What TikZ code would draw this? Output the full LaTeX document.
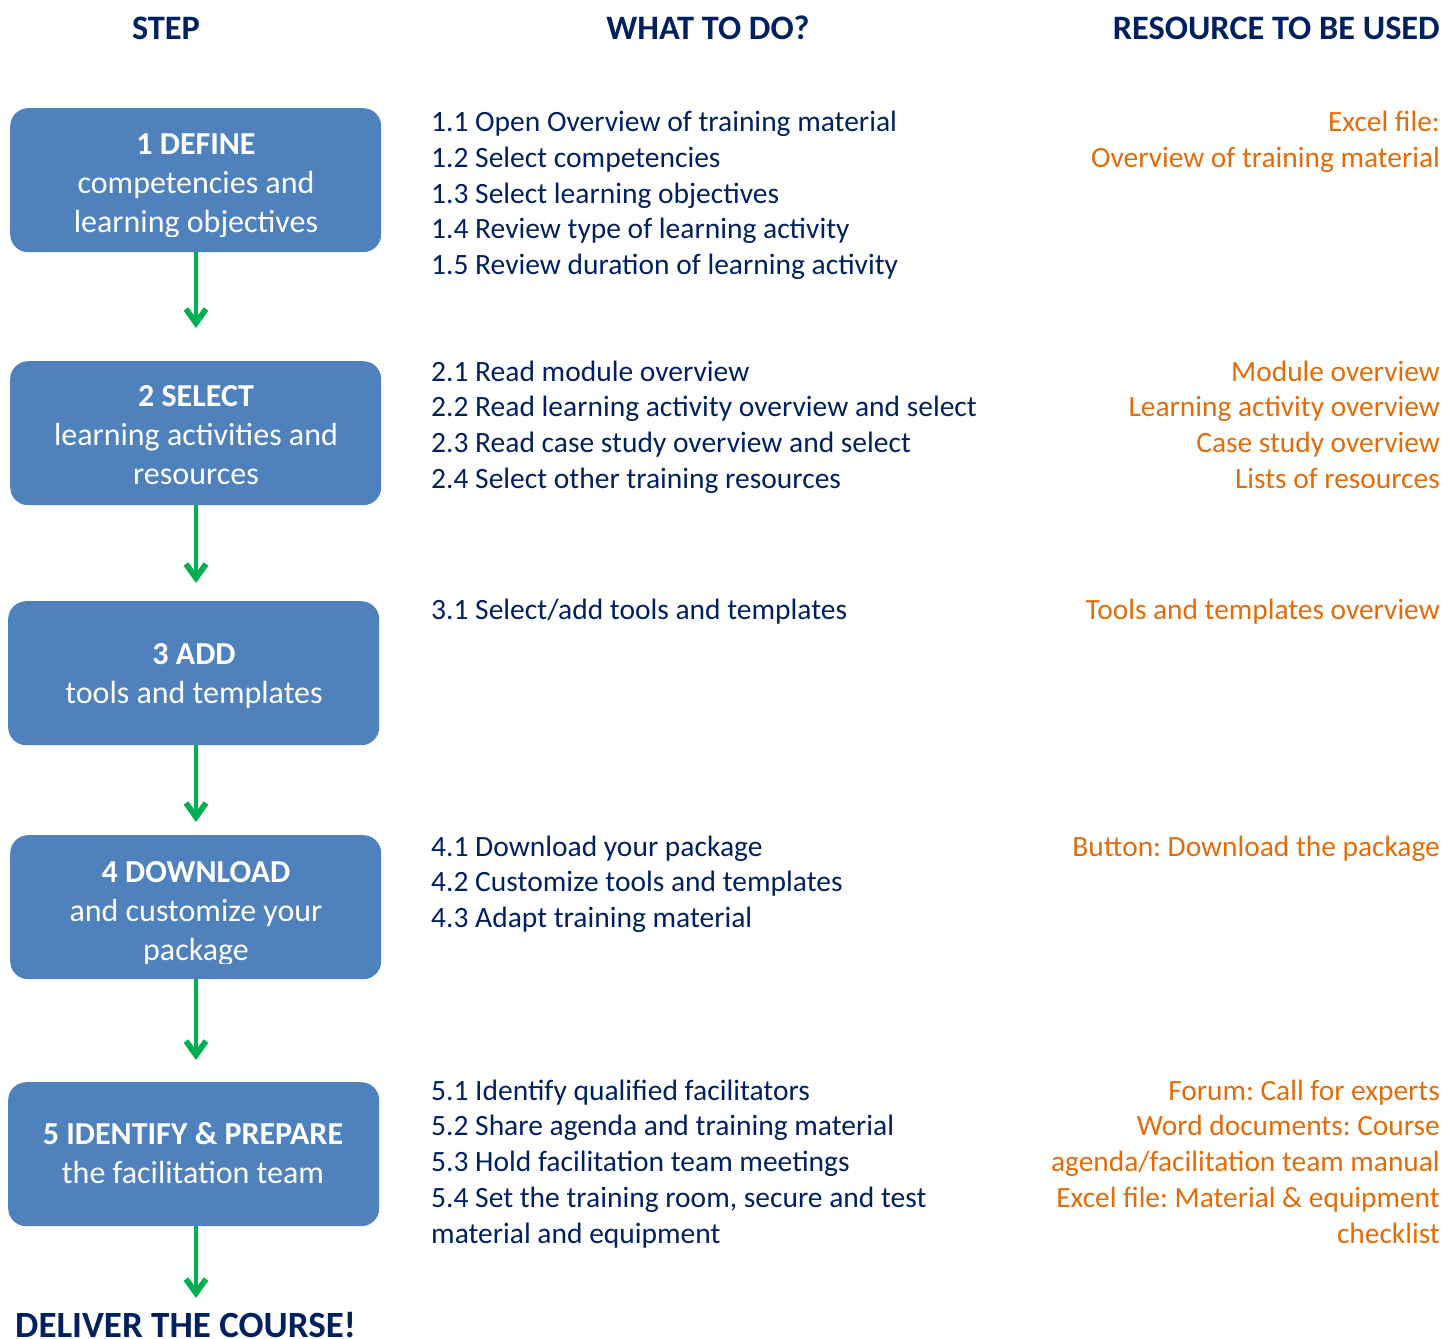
\documentclass[tikz,border=0pt]{standalone}
\usepackage{fontspec}
\setmainfont{Carlito}
\frenchspacing
\usetikzlibrary{arrows.meta}
\definecolor{navy}{HTML}{002060}
\definecolor{boxblue}{HTML}{4F81BD}
\definecolor{orng}{HTML}{E36C09}
\definecolor{grn}{HTML}{00B050}
\begin{document}
\begin{tikzpicture}[x=1pt,y=-1pt,
  hdr/.style={font=\fontsize{34.3}{40}\selectfont\bfseries, text=navy, inner sep=0pt},
  stepbox/.style={fill=boxblue, rounded corners=18pt, minimum width=371pt, minimum height=144pt, inner sep=0pt, anchor=north west},
  steplbl/.style={text=white, font=\fontsize{32}{39}\selectfont, align=center, inner sep=0pt, anchor=base},
  todo/.style={text=navy, font=\fontsize{29.5}{35.8}\selectfont, align=left, inner sep=0pt, anchor=base west},
  res/.style={text=orng, font=\fontsize{29.4}{35.8}\selectfont, align=right, inner sep=0pt, anchor=base east},
  flow/.style={draw=grn, line width=4.8pt, -{Straight Barb[length=14pt,width=20pt,line width=5.8pt]}}
]
\useasboundingbox (0,0) rectangle (1445,1338);

% headers
\node[hdr, anchor=base] (h1) at (166,40) {STEP};
\node[hdr, anchor=base] (h2) at (708,40) {WHAT TO DO?};
\node[hdr, anchor=base east] (h3) at (1440,40) {RESOURCE TO BE USED};

% step boxes
\node[stepbox] (b1) at (10,108) {};
\node[stepbox] (b2) at (10,361) {};
\node[stepbox] (b3) at (8,601) {};
\node[stepbox] (b4) at (10,835) {};
\node[stepbox] (b5) at (8,1082) {};

% step labels (clipped like the text frames of the original); anchor = last baseline
\begin{scope}
\clip ([yshift=16pt]b1.south west) rectangle (b1.north east);
\node[steplbl] (l1) at (196,232) {\textbf{1 DEFINE}\\competencies and\\learning objectives};
\end{scope}
\begin{scope}
\clip ([yshift=16pt]b2.south west) rectangle (b2.north east);
\node[steplbl] (l2) at (196,484) {\textbf{2 SELECT}\\learning activities and\\resources};
\end{scope}
\begin{scope}
\clip ([yshift=16pt]b3.south west) rectangle (b3.north east);
\node[steplbl] (l3) at (194,703) {\textbf{3 ADD}\\tools and templates};
\end{scope}
\begin{scope}
\clip ([yshift=16pt]b4.south west) rectangle (b4.north east);
\node[steplbl] (l4) at (196,960) {\textbf{4 DOWNLOAD}\\and customize your\\package};
\end{scope}
\begin{scope}
\clip ([yshift=16pt]b5.south west) rectangle (b5.north east);
\node[steplbl] (l5) at (193,1183) {\textbf{5 IDENTIFY \& PREPARE}\\the facilitation team};
\end{scope}

% arrows
\coordinate (a1) at (196,328);
\coordinate (a2) at (196,583);
\coordinate (a3) at (196,822);
\coordinate (a4) at (196,1060);
\coordinate (a5) at (196,1298);
\draw[flow] (b1.south -| a1) -- (a1);
\draw[flow] (b2.south -| a2) -- (a2);
\draw[flow] (b3.south -| a3) -- (a3);
\draw[flow] (b4.south -| a4) -- (a4);
\draw[flow] (b5.south -| a5) -- (a5);

\node[hdr, font=\fontsize{37}{40}\selectfont\bfseries, anchor=base west] (deliver) at (15,1337) {DELIVER THE COURSE!};

% what to do (anchor = baseline of last line)
\node[todo] (m1) at (431,274.7) {1.1 Open Overview of training material\\1.2 Select competencies\\1.3 Select learning objectives\\1.4 Review type of learning activity\\1.5 Review duration of learning activity};
\node[todo] (m2) at (431,488.4) {2.1 Read module overview\\2.2 Read learning activity overview and select\\2.3 Read case study overview and select\\2.4 Select other training resources};
\node[todo] (m3) at (431,619) {3.1 Select/add tools and templates};
\node[todo] (m4) at (431,927.6) {4.1 Download your package\\4.2 Customize tools and templates\\4.3 Adapt training material};
\node[todo] (m5) at (431,1243.2) {5.1 Identify qualified facilitators\\5.2 Share agenda and training material\\5.3 Hold facilitation team meetings\\5.4 Set the training room, secure and test\\material and equipment};

% resources
\node[res] (r1) at (1440,167.3) {Excel file:\\Overview of training material};
\node[res] (r2) at (1440,488.4) {Module overview\\Learning activity overview\\Case study overview\\Lists of resources};
\node[res] (r3) at (1440,619) {Tools and templates overview};
\node[res] (r4) at (1440,856) {Button: Download the package};
\node[res] (r5) at (1440,1243.2) {Forum: Call for experts\\Word documents: Course\\agenda/facilitation team manual\\Excel file: Material \& equipment\\checklist};
\end{tikzpicture}
\end{document}
